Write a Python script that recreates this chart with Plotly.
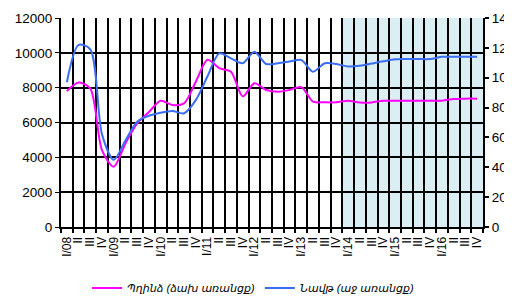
import plotly.graph_objects as go

years = ["08", "09", "10", "11", "12", "13", "14", "15", "16"]
quarters = ["I", "II", "III", "IV"]
categories = []
tick_text = []
for y in years:
    for q in quarters:
        categories.append(q + "/" + y)
        tick_text.append(q + "/" + y if q == "I" else q)

copper = [7800, 8300, 7950, 4400,
          3460, 4800, 5950, 6600,
          7250, 7000, 7100, 8340,
          9600, 9120, 8920, 7500,
          8250, 7870, 7770, 7870,
          8030, 7200, 7160, 7160,
          7250, 7150, 7150, 7250,
          7250, 7250, 7250, 7250,
          7250, 7350, 7370, 7370]

oil = [97, 122, 119, 62,
       45, 58, 70.5, 74.5,
       76.6, 77.7, 76.2, 85,
       101, 116.3, 113, 109.7,
       117.4, 109.2, 109.7, 110.8,
       111.9, 104, 109.7, 109.2,
       107.5, 108, 109.5, 111,
       112.3, 112.5, 112.5, 112.5,
       114, 114, 114, 114]

copper_name = "Պղինձ (ձախ առանցք)"
oil_name = "Նավթ (աջ առանցք)"
forecast_start = "I/14"

font_family = "Arial, Liberation Sans, DejaVu Sans, sans-serif"

fig = go.Figure()
fig.add_trace(go.Scatter(x=categories, y=copper, name=copper_name, mode="lines",
                         line=dict(color="#FF00FF", width=2, shape="spline", smoothing=0.8),
                         yaxis="y"))
fig.add_trace(go.Scatter(x=categories, y=oil, name=oil_name, mode="lines",
                         line=dict(color="#3A6CF4", width=2, shape="spline", smoothing=0.8),
                         yaxis="y2"))

start_idx = categories.index(forecast_start)
fig.add_shape(type="rect", xref="x", yref="paper",
              x0=start_idx - 0.5, x1=len(categories) - 0.5, y0=0, y1=1,
              fillcolor="#DBEEF4", line=dict(width=0), layer="below")

# page body has an 8px default margin, so the figure is sized to fill the rest of the window
fig.update_layout(
    width=504, height=289,
    margin=dict(l=53, r=29, t=10, b=70, autoexpand=False),
    paper_bgcolor="white", plot_bgcolor="white",
    font=dict(family=font_family, color="black"),
    showlegend=True,
    legend=dict(orientation="h", x=0.455, xanchor="center", y=-0.292, yanchor="middle",
                font=dict(size=11, style="italic", family=font_family),
                bgcolor="rgba(0,0,0,0)", tracegroupgap=0),
    xaxis=dict(type="category", categoryorder="array", categoryarray=categories,
               tickmode="array", tickvals=categories, ticktext=tick_text,
               tickson="boundaries", ticks="outside", ticklen=4, tickwidth=1.5, tickcolor="black",
               tickangle=-90, tickfont=dict(size=12), automargin=False, ticklabelstandoff=3,
               showgrid=True, gridcolor="black", gridwidth=2,
               showline=True, linecolor="black", linewidth=2,
               range=[-0.5, len(categories) - 0.5], zeroline=False),
    yaxis=dict(range=[0, 12000], dtick=2000, tickformat="d", automargin=False,
               showgrid=True, gridcolor="black", gridwidth=2,
               ticks="outside", ticklen=4, tickcolor="black", tickfont=dict(size=13.5),
               showline=True, linecolor="black", linewidth=2, zeroline=False),
    yaxis2=dict(range=[0, 140], dtick=20, tickformat="d", overlaying="y", side="right",
                showgrid=False, automargin=False,
                ticks="outside", ticklen=4, tickwidth=2, tickcolor="black", tickfont=dict(size=13.5),
                showline=True, linecolor="black", linewidth=2, zeroline=False),
)

fig.write_html("out.html")
